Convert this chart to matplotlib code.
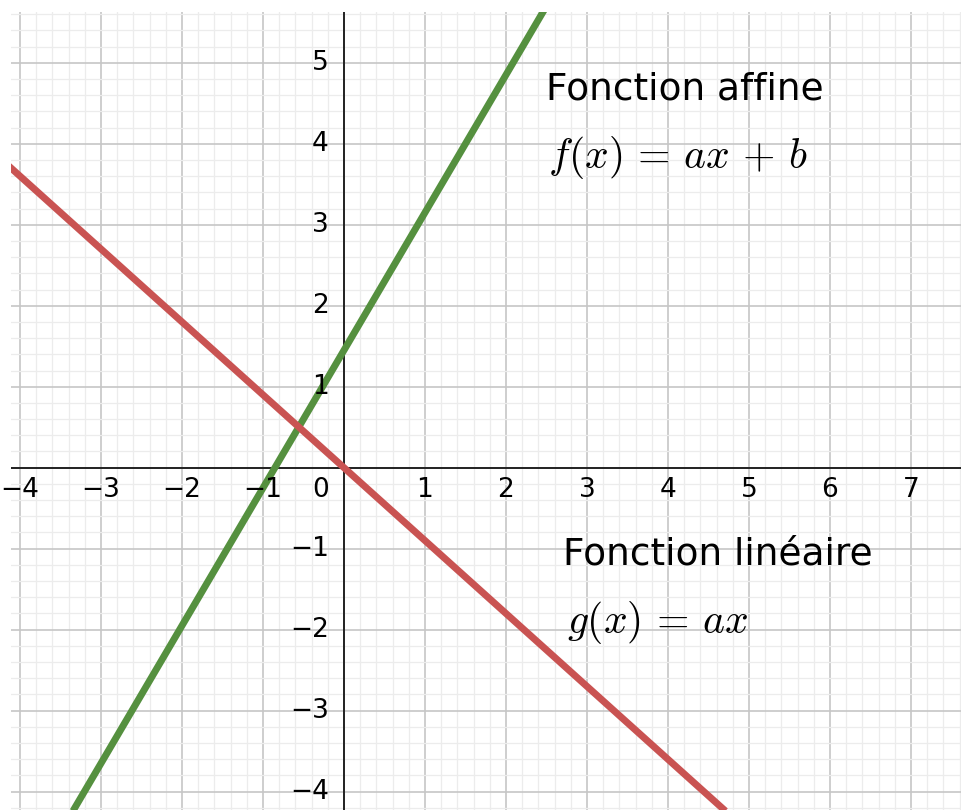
import numpy as np
import matplotlib
matplotlib.use("Agg")
import matplotlib.pyplot as plt
from matplotlib.ticker import MultipleLocator

# droites
a_f = 1.7
b_f = 1.45
a_g = -0.9

x_ticks = [-4, -3, -2, -1, 1, 2, 3, 4, 5, 6, 7]
y_ticks = [-4, -3, -2, -1, 1, 2, 3, 4, 5]

titre_f = "Fonction affine"
formule_f = r"$f(x) \,=\, ax \,+\, b$"
titre_g = "Fonction linéaire"
formule_g = r"$g(x) \,=\, ax$"

plt.rcParams['font.family'] = ['DejaVu Sans']
plt.rcParams['mathtext.fontset'] = 'cm'

fig = plt.figure(figsize=(9.62, 8.10), dpi=100)
ax = fig.add_axes([11 / 962, 0, 951 / 962, 798 / 810])
ax.set_xlim(-4.111, 7.63)
ax.set_ylim(-4.226, 5.626)

# quadrillage
ax.xaxis.set_major_locator(MultipleLocator(1))
ax.yaxis.set_major_locator(MultipleLocator(1))
ax.xaxis.set_minor_locator(MultipleLocator(0.2))
ax.yaxis.set_minor_locator(MultipleLocator(0.2))
ax.grid(which='major', color='#c6c6c6', lw=1.2)
ax.grid(which='minor', color='#ececec', lw=0.9)
ax.set_axisbelow(True)
ax.tick_params(which='both', length=0, labelbottom=False, labelleft=False)
for s in ax.spines.values():
    s.set_visible(False)

# axes
ax.axhline(0, color='#222222', lw=1.4, zorder=2)
ax.axvline(0, color='#222222', lw=1.4, zorder=2)

x = np.linspace(-5, 8, 200)
ax.plot(x, a_f * x + b_f, color='#55903f', lw=5, solid_capstyle='butt', zorder=3)
ax.plot(x, a_g * x, color='#c95352', lw=5, solid_capstyle='butt', zorder=3)

# graduations
for t in x_ticks:
    ax.annotate(str(t).replace('-', '\u2212'), (t, 0), xytext=(0, -7),
                textcoords='offset points', ha='center', va='top', fontsize=19)
for t in y_ticks:
    ax.annotate(str(t).replace('-', '\u2212'), (0, t), xytext=(-11, 0),
                textcoords='offset points', ha='right', va='center', fontsize=19)
ax.annotate('0', (0, 0), xytext=(-11, -7), textcoords='offset points',
            ha='right', va='top', fontsize=19)

# textes
ax.text(2.49, 4.54, titre_f, fontsize=27, va='baseline')
ax.text(2.52, 3.70, formule_f, fontsize=30, va='baseline')
ax.text(2.70, -1.20, titre_g, fontsize=27, va='baseline')
ax.text(2.75, -2.04, formule_g, fontsize=30, va='baseline')

fig.savefig('out.png', dpi=100)
